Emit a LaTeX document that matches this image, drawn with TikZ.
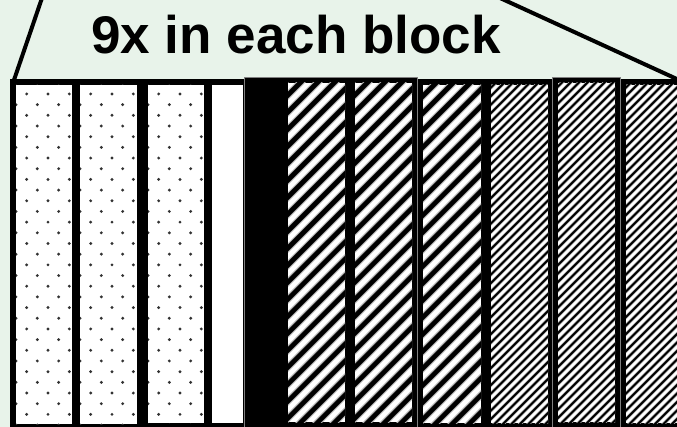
\documentclass[tikz,border=0pt]{standalone}
\usepackage{fontspec}
\setmainfont{Liberation Sans}
\definecolor{bgc}{RGB}{232,243,234}
\definecolor{dotc}{RGB}{50,50,50}
\newcommand\dotpanel[4]{%
  \fill[white] (#1,#3) rectangle (#2,#4);
  \begin{scope}
    \clip (#1,#3) rectangle (#2,#4);
    \foreach \k in {0,...,33} {
      \pgfmathsetmacro\yy{83.3+10.68*\k}
      \pgfmathsetmacro\off{#1+mod(\k,2)*10.67}
      \foreach \j in {0,...,3} {
        \fill[dotc] ({\off+21.33*\j},\yy) circle (1.6);
      }
    }
  \end{scope}}
\newcommand\hatchpanel[7]{%
  \fill[white] (#1,#3) rectangle (#2,#4);
  \begin{scope}
    \clip (#1,#3) rectangle (#2,#4);
    \foreach \i in {0,...,60} {
      \pgfmathsetmacro\aa{#1-400+#5*\i}
      \draw[gray!60, line width=#6] (\aa,#4+5) -- ++(405,-405);
      \draw[black, line width=#7] (\aa,#4+5) -- ++(405,-405);
    }
  \end{scope}}
\begin{document}
\begin{tikzpicture}[x=1pt,y=-1pt, thick line/.style={line width=4pt, black}]
\fill[bgc] (0,0) rectangle (677,427);
\useasboundingbox (0,0) rectangle (677,427);
% frame
\fill[black] (10,79) rectangle (677,427);
\filldraw[fill=black, draw=gray, line width=0.6pt] (244,77) rectangle (417,430);
\filldraw[fill=black, draw=gray, line width=0.6pt] (552,77) rectangle (620,430);
% panels
\dotpanel{16}{72}{85}{424}
\dotpanel{80}{137}{85}{424}
\dotpanel{148}{204}{85}{423}
\fill[white] (212,85) rectangle (243,423);
\hatchpanel{288}{345}{83}{422}{17}{7pt}{4.6pt}
\hatchpanel{355}{412}{83}{422}{17}{7pt}{4.6pt}
\hatchpanel{423}{481}{85}{423}{17}{7pt}{4.6pt}
\hatchpanel{491}{548}{85}{423}{8.5}{3.4pt}{2.0pt}
\hatchpanel{558}{615}{83}{422}{8.5}{3.4pt}{2.0pt}
\hatchpanel{626}{677}{85}{423}{8.5}{3.4pt}{2.0pt}
% title and lines
\node[font=\bfseries\fontsize{53}{60}\selectfont, anchor=base, inner sep=0pt] (title) at (296,54) {9x in each block};
\coordinate (lt) at (42,-2);
\coordinate (lb) at (14,80);
\coordinate (rt) at (500,-2);
\coordinate (rb) at (679,80);
\draw[thick line] (lb) -- (lt);
\draw[thick line] (rt) -- (rb);
\end{tikzpicture}
\end{document}
